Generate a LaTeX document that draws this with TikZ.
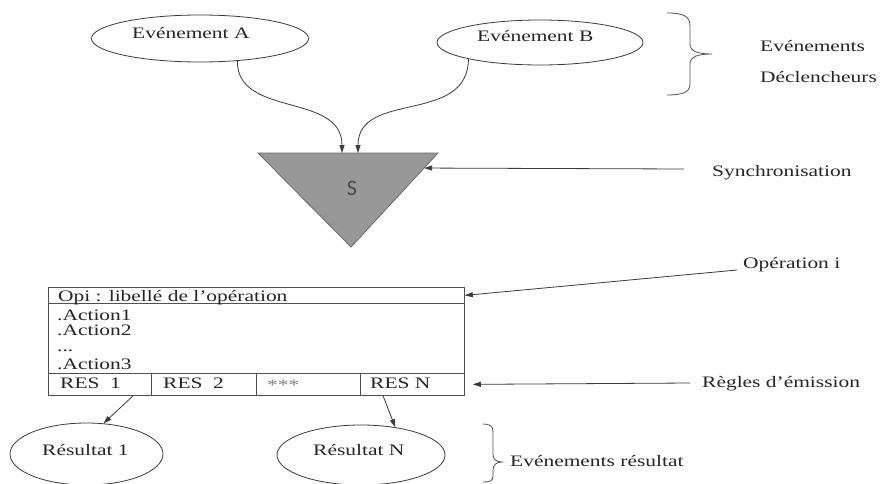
\documentclass[tikz,border=0pt]{standalone}
\usepackage{fontspec}
\setmainfont{Liberation Serif}[FakeStretch=1.34]
\newfontfamily\syncfont{Carlito}
\usetikzlibrary{arrows.meta,calc,shapes.geometric}

\definecolor{ink}{HTML}{262626}
\definecolor{wire}{HTML}{3A3A3A}
\definecolor{frame}{HTML}{505050}
\definecolor{syncfill}{HTML}{989898}
\definecolor{syncedge}{HTML}{6A6A6A}
\definecolor{syncink}{HTML}{4A4A4A}

\begin{document}
\begin{tikzpicture}[x=1pt,y=-1pt,
  every node/.style={inner sep=0pt},
  txt/.style={anchor=base west, text=ink, font=\fontsize{16}{19}\selectfont},
  evt/.style={ellipse, draw=wire, line width=0.8pt, minimum width=#1},
  cell/.style={draw=frame, line width=0.8pt, anchor=north west},
  link/.style={draw=wire, line width=0.8pt, -{Triangle[length=8pt,width=5pt]}},
  bracket/.style={draw=frame, line width=0.8pt}
]
\fill[white] (0,0) rectangle (880,484);
\useasboundingbox (0,0) rectangle (880,484);

% triggering events
\node[evt=217pt, minimum height=47pt] (evA) at (200,38.5) {};
\node[txt] (evAtxt) at (132,39) {Evénement A};
\node[evt=206pt, minimum height=45pt] (evB) at (540,42.5) {};
\node[txt] (evBtxt) at (477,42) {Evénement B};

% synchronisation triangle
\coordinate (tl) at (258,153);
\coordinate (tr) at (438,153);
\coordinate (tb) at (351,247);
\filldraw[fill=syncfill, draw=syncedge, line width=0.8pt] (tl) -- (tr) -- (tb) -- cycle;
\node[text=syncink, font=\syncfont\fontsize{22}{22}\selectfont] (sync) at (352,188) {S};
\coordinate (inA) at (342,153);
\coordinate (inB) at (358,153);
\coordinate (inS) at ($(tr)!0.16!(tb)$);

\draw[link] (evA.-31) .. controls (237,118) and (342,92) .. (inA);
\draw[link] (evB.-167) .. controls (468,125) and (358,90) .. (inB);

% operation box
\node[cell, minimum width=416pt, minimum height=16pt] (hdr) at (48,287) {};
\node[cell, minimum width=416pt, minimum height=70pt] (body) at (48,303) {};
\node[cell, minimum width=103pt, minimum height=22pt] (res1) at (48,373) {};
\node[cell, minimum width=105pt, minimum height=22pt] (res2) at (151,373) {};
\node[cell, minimum width=104pt, minimum height=22pt] (res3) at (256,373) {};
\node[cell, minimum width=104pt, minimum height=22pt] (resN) at (360,373) {};

\node[txt] (hdrtxt) at (58,301) {Opi : libellé de l’opération};
\node[txt] (act1) at (57,320) {.Action1};
\node[txt] (act2) at (57,335) {.Action2};
\node[txt] (actdots) at (57,351) {...};
\node[txt] (act3) at (57,369) {.Action3};
\node[txt] (res1txt) at (60,388) {RES~~1};
\node[txt] (res2txt) at (163,388) {RES~~2};
\node[txt, text=gray] (res3txt) at (267,390) {***};
\node[txt] (resNtxt) at (370,388) {RES~N};

% result events
\node[evt=153pt, minimum height=62pt] (r1) at (86.5,454) {};
\node[txt] (r1txt) at (42,455) {Résultat 1};
\node[evt=168pt, minimum height=60pt] (rN) at (361,455) {};
\node[txt] (rNtxt) at (313,455) {Résultat N};

\draw[link] ($(res1.south west)!0.82!(res1.south east)$) -- (r1.61);
\draw[link] ($(resN.south west)!0.22!(resN.south east)$) -- (rN.39);

% annotations on the right
\draw[bracket] (667,13) .. controls (683,13) and (690,16) .. (690,26) -- (690,44)
  .. controls (690,51) and (697,54) .. (712,54)
  .. controls (697,54) and (690,57) .. (690,64) -- (690,84)
  .. controls (690,92) and (683,95) .. (667,95);
\node[txt] (trig1) at (760,52) {Evénements};
\node[txt] (trig2) at (760,83) {Déclencheurs};

\node[txt] (synclbl) at (712,176) {Synchronisation};
\coordinate (syncfrom) at (684,169);
\draw[link] (syncfrom) -- (inS);

\node[txt] (oplbl) at (743,268) {Opération i};
\coordinate (opfrom) at (737,270);
\draw[link] (opfrom) -- (hdr.east);

\node[txt] (emlbl) at (702,387) {Règles d’émission};
\coordinate (emfrom) at (690,383);
\draw[link, shorten >=8pt] (emfrom) -- (resN.east);

\draw[bracket] (483,424) .. controls (490,424) and (493,426) .. (493,432) -- (493,454)
  .. controls (493,459) and (496,462) .. (502,462)
  .. controls (496,462) and (493,465) .. (493,470) -- (493,476)
  .. controls (493,481) and (490,482) .. (483,482);
\node[txt] (reslbl) at (510,466) {Evénements résultat};
\end{tikzpicture}
\end{document}
